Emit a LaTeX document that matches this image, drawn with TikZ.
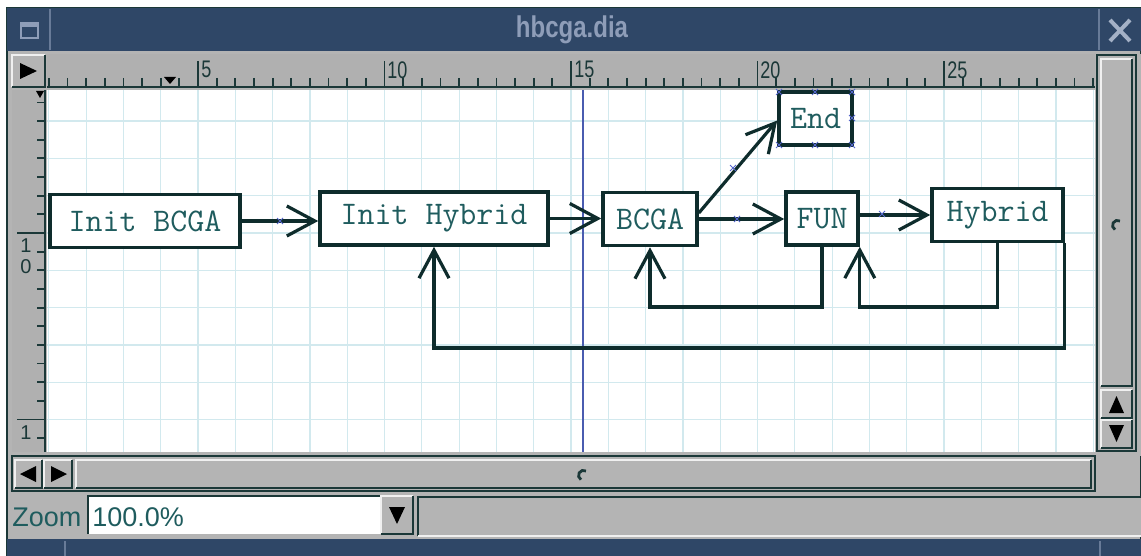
\documentclass[tikz,border=0pt]{standalone}
\usepackage{fontspec}
\newfontfamily\uifont{Liberation Sans}
\usetikzlibrary{arrows.meta,shapes.misc}
\definecolor{titleblue}{HTML}{2F4767}
\definecolor{titletext}{HTML}{8E9DB8}
\definecolor{wingray}{HTML}{B4B4B4}
\definecolor{rulergray}{HTML}{B0B0B0}
\definecolor{framedark}{HTML}{1B3838}
\definecolor{gridc}{HTML}{D2E9EE}
\definecolor{guideblue}{HTML}{4A5CB0}
\definecolor{linec}{HTML}{0E2C2C}
\definecolor{textteal}{HTML}{1F5C5E}
\definecolor{markblue}{HTML}{5566CC}
% raised widget: x1 y1 x2 y2
\newcommand\uibutton[4]{%
  \fill[wingray] (#1,#2) rectangle (#3,#4);
  \draw[white!80!wingray, line width=1pt] (#1,#4) -- (#1,#2) -- (#3,#2);
  \draw[framedark, line width=1pt] (#1,#4) -- (#3,#4) -- (#3,#2);
}
\begin{document}
\begin{tikzpicture}[x=0.5pt,y=-0.5pt,
  box/.style={draw=linec, line width=1.8pt, fill=white, text=textteal,
    font=\ttfamily\fontsize{16.5}{18}\selectfont, inner sep=0pt, minimum height=26.5pt},
  conn/.style={draw=linec, line width=1.6pt,
    -{Straight Barb[length=14pt,width=15pt,line width=1.6pt]}},
  markx/.style={cross out, draw=markblue, line width=0.5pt, minimum size=2.5pt, inner sep=0pt},
  uilabel/.style={font=\uifont\fontsize{13.5}{15}\selectfont, text=textteal, inner sep=0pt},
  rulerlbl/.style={font=\uifont\fontsize{12}{13}\selectfont, text=framedark, inner sep=0pt},
  vrulerlbl/.style={font=\uifont\fontsize{10}{11}\selectfont, text=framedark, inner sep=0pt},
  tick/.style={draw=framedark, line width=0.9pt}]
\useasboundingbox (0,0) rectangle (1141,556);
\fill[white] (0,0) rectangle (1141,556);

% window body
\fill[wingray] (7,8) rectangle (1141,556);
\draw[framedark, line width=0.8pt] (7,8) rectangle (1141,556);

% title bar
\fill[titleblue] (7,8) rectangle (1141,51);
\draw[titletext!60!titleblue, line width=0.8pt] (50,9) -- (50,50) (1099,9) -- (1099,50);
\draw[titletext, line width=1pt] (21,23) rectangle (38,38);
\draw[titletext, line width=1.5pt] (21,26) -- (38,26);
\node[font=\uifont\bfseries\fontsize{15}{18}\selectfont, text=titletext] (title) at (572,30)
  {\scalebox{0.8}[1]{hbcga.dia}};
\draw[titletext!80!white, line width=2pt] (1110,20) -- (1130,41) (1130,20) -- (1110,41);

% horizontal ruler
\uibutton{12}{55}{45}{87}
\fill[black] (20,63) -- (37,71) -- (20,79) -- cycle;
\fill[rulergray] (47,54) rectangle (1095,88);
\draw[framedark, line width=1pt] (47,87) -- (1095,87);
\foreach \k in {2,...,58} {
  \pgfmathsetmacro{\tx}{11.5+18.65*\k}
  \pgfmathtruncatemacro{\m}{mod(\k,10)}
  \ifnum\m=0
    \draw[tick] (\tx,61) -- (\tx,87);
  \else
    \draw[tick] (\tx,78) -- (\tx,87);
  \fi
}
\node[rulerlbl, anchor=north west] (h5) at (201,61) {\scalebox{0.75}[1]{5}};
\node[rulerlbl, anchor=north west] (h10) at (387,61) {\scalebox{0.75}[1]{10}};
\node[rulerlbl, anchor=north west] (h15) at (574,61) {\scalebox{0.75}[1]{15}};
\node[rulerlbl, anchor=north west] (h20) at (760,61) {\scalebox{0.75}[1]{20}};
\node[rulerlbl, anchor=north west] (h25) at (947,61) {\scalebox{0.75}[1]{25}};
\fill[black] (164,77) -- (176,77) -- (170,84) -- cycle;

% vertical ruler
\fill[rulergray] (12,90) rectangle (46,452);
\draw[framedark, line width=1pt] (45,90) -- (45,452);
\foreach \k in {-7,...,11} {
  \pgfmathsetmacro{\ty}{233+18.65*\k}
  \pgfmathtruncatemacro{\m}{mod(\k,10)}
  \ifnum\m=0
    \draw[tick] (17,\ty) -- (45,\ty);
  \else
    \draw[tick] (37,\ty) -- (45,\ty);
  \fi
}
\node[vrulerlbl, anchor=north] (v1) at (26,238) {1};
\node[vrulerlbl, anchor=north] (v0) at (26,259) {0};
\node[vrulerlbl, anchor=north] (v1b) at (26,425) {1};
\fill[black] (36,91) -- (44,91) -- (40,98) -- cycle;

% canvas with grid and guide
\fill[white] (47,90) rectangle (1095,452);
\foreach \j in {1,...,29} {
  \pgfmathsetmacro{\gx}{11.5+37.3*\j}
  \draw[gridc, line width=0.6pt] (\gx,90) -- (\gx,452);
}
\foreach \i in {-3,...,5} {
  \pgfmathsetmacro{\gy}{233+37.3*\i}
  \draw[gridc, line width=0.6pt] (47,\gy) -- (1095,\gy);
}
\draw[guideblue, line width=0.8pt] (583,90) -- (583,452);

% diagram boxes
\node[box, minimum width=95pt] (ib) at (145,221) {Init BCGA};
\node[box, minimum width=114pt] (ih) at (434,218.5) {Init Hybrid};
\node[box, minimum width=47pt] (bc) at (650,219) {BCGA};
\node[box, minimum width=36.5pt] (end) at (815.5,118.5) {End};
\node[box, minimum width=36pt] (fun) at (822,218.5) {FUN};
\node[box, minimum width=65.5pt] (hy) at (997.5,215) {Hybrid};
\coordinate (lowA) at (0,307);
\coordinate (lowB) at (0,348);

% connectors
\draw[conn] (ib.east) -- (ib.east -| ih.west);
\draw[conn] (ih.east) -- (ih.east -| bc.west);
\draw[conn] (bc.east) -- (bc.east -| fun.west);
\draw[conn] ([yshift=3pt]bc.east) -- ([yshift=-1pt]end.west);
\draw[conn] (hy.west -| fun.east) -- (hy.west);
\draw[conn] (fun.south) -- (fun.south |- lowA) -| (bc.south);
\draw[conn] (hy.south) -- (hy.south |- lowA) -| (fun.south east);
\draw[conn] (hy.south east) -- (hy.south east |- lowB) -| (ih.south);

% connection point marks
\foreach \x/\y [count=\i] in {280/221, 737/219, 882/214, 733/168,
    779/92, 815/92, 852/92, 852/118, 779/145, 815/145, 852/145}
  \node[markx] (cx\i) at (\x,\y) {};

% vertical scrollbar
\fill[wingray] (1095,54) rectangle (1141,456);
\draw[framedark, line width=1pt] (1097,55) rectangle (1136,451);
\uibutton{1101}{59}{1132}{386}
\uibutton{1101}{390}{1132}{418}
\uibutton{1101}{420}{1132}{448}
\fill[black] (1109,413) -- (1124,413) -- (1116.5,396) -- cycle;
\fill[black] (1109,425) -- (1124,425) -- (1116.5,442) -- cycle;
\draw[framedark, line width=1.4pt] (1120,221) arc[start angle=60, end angle=240, radius=2.5pt];

% horizontal scrollbar
\draw[framedark, line width=1pt] (12,456) rectangle (1095,491);
\uibutton{15}{460}{42}{488}
\uibutton{44}{460}{72}{488}
\uibutton{76}{460}{1091}{488}
\fill[black] (36,466) -- (36,482) -- (20,474) -- cycle;
\fill[black] (51,466) -- (51,482) -- (67,474) -- cycle;
\draw[framedark, line width=1.4pt] (586,471) arc[start angle=60, end angle=240, radius=2.5pt];

% zoom entry row
\node[uilabel, anchor=west] (zlbl) at (12,517) {Zoom};
\fill[white] (88,496) rectangle (380,534);
\draw[framedark, line width=1pt] (88,534) -- (88,496) -- (380,496);
\node[uilabel, anchor=west] (zval) at (92,517) {100.0\%};
\uibutton{381}{496}{413}{534}
\fill[black] (389,507) -- (405,507) -- (397,524) -- cycle;
\fill[wingray] (418,497) rectangle (1141,536);
\draw[framedark, line width=1pt] (418,536) -- (418,497) -- (1141,497);
\draw[white!80!wingray, line width=1pt] (418,536) -- (1141,536);

% bottom strip
\fill[titleblue] (7,539) rectangle (1141,556);
\draw[titletext!60!titleblue, line width=0.8pt] (65,541) -- (65,556) (1100,541) -- (1100,556);
\end{tikzpicture}
\end{document}
